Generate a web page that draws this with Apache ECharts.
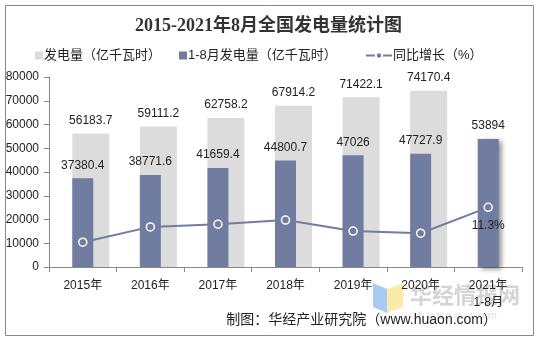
<!DOCTYPE html>
<html>
<head>
<meta charset="utf-8">
<script src="https://cdn.jsdelivr.net/npm/echarts@6/dist/echarts.min.js"></script>
<style>
html,body{margin:0;padding:0;background:#fff;}
#c{width:537px;height:339px;}
</style>
</head>
<body>
<div id="c"></div>
<script>
var categories = ['2015年', '2016年', '2017年', '2018年', '2019年', '2020年', '2021年\n1-8月'];
var annualOutput = [56183.7, 59111.2, 62758.2, 67914.2, 71422.1, 74170.4, null];
var janAugOutput = [37380.4, 38771.6, 41659.4, 44800.7, 47026, 47727.9, 53894];
var growthRate = [4.7, 7.6, 8.1, 8.9, 6.8, 6.4, 11.3];
var yTicks = [0, 10000, 20000, 30000, 40000, 50000, 60000, 70000, 80000];

var gray = '#dcdcdc';
var blue = '#717ca1';
var fontSans = 'Liberation Sans, Arial, Noto Sans CJK SC, sans-serif';

var chart = echarts.init(document.getElementById('c'), null, {renderer: 'canvas'});

var janAugData = janAugOutput.map(function (v, i) {
  if (i === janAugOutput.length - 1) {
    return {value: v, itemStyle: {shadowColor: 'rgba(0,0,0,0.45)', shadowBlur: 5, shadowOffsetX: 3, shadowOffsetY: 2}};
  }
  return v;
});

var growthData = growthRate.map(function (v, i) {
  if (i === growthRate.length - 1) {
    return {value: v, label: {show: true, position: 'bottom', distance: 8, formatter: '{c}%', color: '#222', fontSize: 12, fontFamily: fontSans}};
  }
  return v;
});

chart.setOption({
  animation: false,
  backgroundColor: '#fff',
  title: {
    text: '2015-2021年8月全国发电量统计图',
    left: 'center',
    top: 12,
    textStyle: {fontSize: 18, fontWeight: 'bold', color: '#333', fontFamily: 'Liberation Serif, Times New Roman, Noto Sans CJK SC, serif'}
  },
  legend: [{
    left: 30,
    top: 44,
    itemWidth: 8,
    itemHeight: 8,
    itemGap: 18,
    icon: 'rect',
    textStyle: {fontSize: 13, color: '#222', fontFamily: fontSans, padding: [0, 0, 0, -4]},
    data: ['发电量（亿千瓦时）', '1-8月发电量（亿千瓦时）']
  }, {
    left: 360,
    top: 44,
    itemWidth: 26,
    itemHeight: 8,
    textStyle: {fontSize: 13, color: '#222', fontFamily: fontSans, padding: [0, 0, 0, -4]},
    data: ['同比增长（%）']
  }],
  grid: {left: 49, right: 15, top: 77, bottom: 72},
  xAxis: {
    type: 'category',
    data: categories,
    axisLine: {lineStyle: {color: '#888'}},
    axisTick: {show: true, length: 5, lineStyle: {color: '#888'}},
    axisLabel: {color: '#222', fontSize: 12, fontFamily: fontSans, margin: 10, lineHeight: 17}
  },
  yAxis: [{
    type: 'value',
    min: yTicks[0],
    max: yTicks[yTicks.length - 1],
    interval: 10000,
    axisLine: {show: true, lineStyle: {color: '#888'}},
    axisTick: {show: true, length: 5, lineStyle: {color: '#888'}},
    splitLine: {show: false},
    axisLabel: {color: '#222', fontSize: 12, fontFamily: fontSans, margin: 10, formatter: function (v) { return String(v); }}
  }, {
    type: 'value',
    min: 0,
    max: 36,
    show: false,
    splitLine: {show: false}
  }],
  series: [{
    name: '发电量（亿千瓦时）',
    type: 'bar',
    data: annualOutput,
    barWidth: 37,
    barGap: '-100%',
    itemStyle: {color: gray},
    label: {show: true, position: 'top', distance: 7, color: '#222', fontSize: 12, fontFamily: fontSans},
    z: 1
  }, {
    name: '1-8月发电量（亿千瓦时）',
    type: 'bar',
    data: janAugData,
    barWidth: 21,
    barGap: '-100%',
    itemStyle: {color: blue},
    label: {show: true, position: 'top', distance: 7, color: '#222', fontSize: 12, fontFamily: fontSans},
    z: 2
  }, {
    name: '同比增长（%）',
    type: 'line',
    yAxisIndex: 1,
    data: growthData,
    symbol: 'circle',
    symbolSize: 8,
    lineStyle: {color: blue, width: 2},
    itemStyle: {color: blue, borderColor: '#fff', borderWidth: 1.5},
    z: 3
  }],
  graphic: [{
    type: 'rect',
    left: 3, top: 3,
    shape: {width: 528, height: 330},
    style: {fill: 'none', stroke: '#888', lineWidth: 1},
    silent: true, z: -10
  }, {
    type: 'polygon',
    shape: {points: [[373, 283], [387, 289], [387, 313], [373, 307]]},
    style: {fill: '#a9cbf3'},
    silent: true, z: -5
  }, {
    type: 'polygon',
    shape: {points: [[387, 289], [403, 283], [403, 307], [387, 313]]},
    style: {fill: '#fbeaa8'},
    silent: true, z: -5
  }, {
    type: 'text',
    left: 410, top: 284,
    style: {text: '华经情报网', fill: '#d4d4d4', fontSize: 22, fontWeight: 'bold', fontFamily: 'Noto Sans CJK SC, sans-serif'},
    silent: true, z: -5
  }, {
    type: 'text',
    left: 418, top: 310,
    style: {text: 'h u a o n . c o m', fill: '#e0e0e0', fontSize: 11, fontFamily: fontSans},
    silent: true, z: -5
  }, {
    type: 'text',
    right: 40, top: 313,
    style: {text: '制图：华经产业研究院（www.huaon.com）', fill: '#222', fontSize: 14, fontFamily: fontSans},
    silent: true, z: 10
  }]
});
</script>
</body>
</html>
